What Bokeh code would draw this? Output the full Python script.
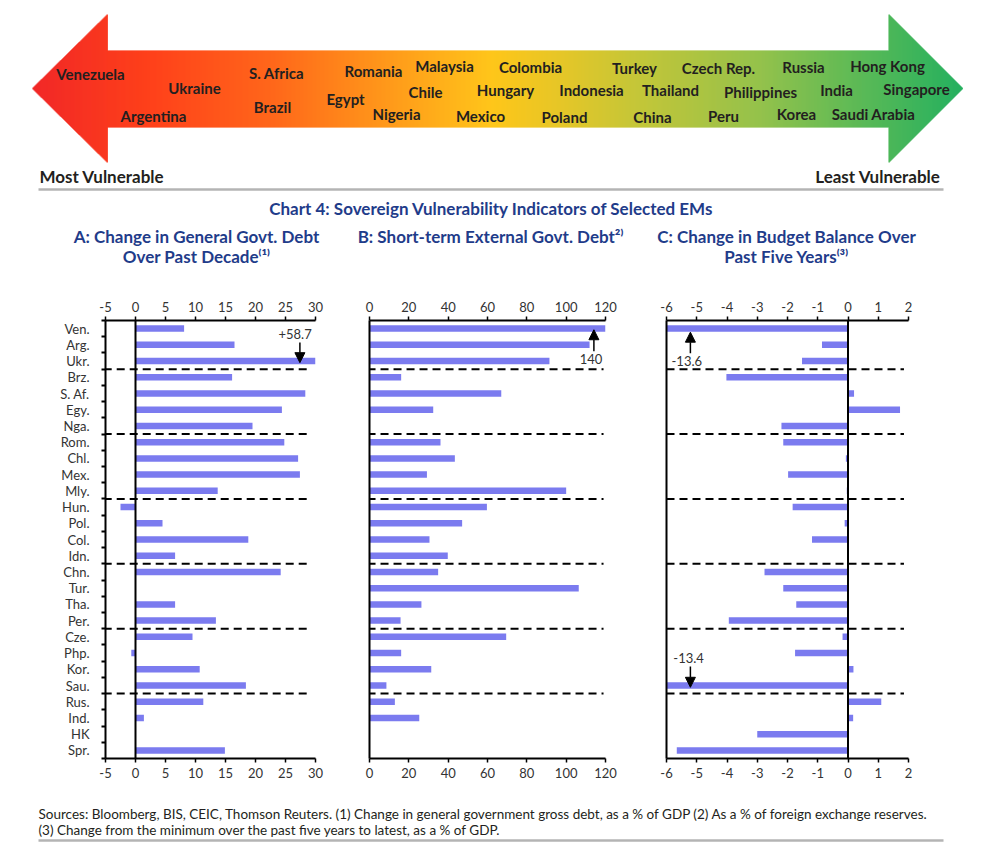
import numpy as np
from bokeh.plotting import figure
from bokeh.models import (Range1d, FixedTicker, LinearAxis, Arrow, NormalHead, Label,
                          ColumnDataSource, Span)
from bokeh.layouts import column, row
from bokeh.embed import file_html
from bokeh.resources import INLINE
from bokeh.core.properties import value

nan = float("nan")

# ---------------- data ----------------
codes = ["Ven.", "Arg.", "Ukr.", "Brz.", "S. Af.", "Egy.", "Nga.", "Rom.", "Chl.", "Mex.",
         "Mly.", "Hun.", "Pol.", "Col.", "Idn.", "Chn.", "Tur.", "Tha.", "Per.", "Cze.",
         "Php.", "Kor.", "Sau.", "Rus.", "Ind.", "HK", "Spr."]
group_sizes = [3, 4, 4, 4, 4, 4, 4]

# A: change in general govt. debt over past decade (% of GDP)
debt_change = [8.1, 16.5, 58.7, 16.1, 28.3, 24.4, 19.5, 24.8, 27.1, 27.4,
               13.7, -2.5, 4.5, 18.8, 6.6, 24.2, nan, 6.6, 13.4, 9.5,
               -0.7, 10.7, 18.4, 11.3, 1.4, nan, 14.9]
# B: short-term external govt. debt (% of FX reserves)
st_ext_debt = [140, 111.9, 91.5, 16.1, 67.0, 32.4, nan, 36.1, 43.4, 29.2,
               100.0, 59.7, 47.1, 30.5, 39.8, 34.9, 106.4, 26.4, 15.8, 69.5,
               16.1, 31.4, 8.6, 12.9, 25.3, nan, nan]
# C: change in budget balance over past five years (% of GDP)
budget_change = [-13.6, -0.86, -1.52, -4.02, 0.2, 1.72, -2.2, -2.14, -0.07, -1.98,
                 -0.04, -1.83, -0.11, -1.19, nan, -2.76, -2.14, -1.71, -3.94, -0.18,
                 -1.75, 0.18, -13.4, 1.1, 0.17, -3.0, -5.66]

ticks_a = [-5, 0, 5, 10, 15, 20, 25, 30]
ticks_b = [0, 20, 40, 60, 80, 100, 120]
ticks_c = [-6, -5, -4, -3, -2, -1, 0, 1, 2]

arrow_countries = ["Venezuela", "Ukraine", "Argentina", "S. Africa", "Brazil", "Romania",
                   "Egypt", "Malaysia", "Chile", "Nigeria", "Hungary", "Mexico", "Colombia",
                   "Indonesia", "Poland", "Turkey", "Thailand", "China", "Czech Rep.",
                   "Philippines", "Peru", "Russia", "India", "Korea", "Hong Kong",
                   "Singapore", "Saudi Arabia"]

# ---------------- layout / style ----------------
label_x = [90, 194, 153, 276, 272, 373, 345, 444, 425, 396, 505, 480, 530, 591, 564,
           634, 670, 652, 718, 760, 723, 803, 836, 796, 887, 916, 873]
label_y = [73, 87, 115, 72, 106, 70, 98, 65, 91, 113, 89, 115, 66, 89, 116,
           67, 89, 116, 67, 91, 115, 66, 89, 113, 65, 88, 113]

FONT = "Lato"
BAR = "#7b7bef"
TXT = "#231f20"
BLUE = "#1f3c8a"
GRAY = "#b4b4b4"
W = 986

# ---------------- top figure (arrow + titles) ----------------
top = figure(width=W, height=285, x_range=Range1d(0, W), y_range=Range1d(285, 0),
             output_backend="svg", toolbar_location=None, min_border=0,
             x_axis_location=None, y_axis_location=None)
top.grid.visible = False
top.outline_line_color = None

# gradient double-headed arrow built from thin slices
tipL, baseL, baseR, tipR = 31.0, 107.0, 887.0, 962.0
cy, head_half, sh_top, sh_bot = 88.0, 75.0, 50.0, 127.0
xs = np.arange(tipL, tipR, 1.0)
tops, bots = [], []
for x in xs:
    if x < baseL:
        h = (x - tipL) / (baseL - tipL) * head_half
        tops.append(cy - h); bots.append(cy + h)
    elif x > baseR:
        h = (tipR - x) / (tipR - baseR) * head_half
        tops.append(cy - h); bots.append(cy + h)
    else:
        tops.append(sh_top); bots.append(sh_bot)
stops_x = [31, 150, 270, 345, 425, 490, 560, 634, 760, 850, 962]
stops_c = ["#f01010", "#ff2c00", "#ff5600", "#ff7a00", "#ffa000", "#ffbf00",
           "#e3c010", "#bfc022", "#88bb38", "#4fb343", "#0ca84e"]
rgb = np.array([[int(c[i:i + 2], 16) for i in (1, 3, 5)] for c in stops_c], dtype=float)
cols = []
for x in xs:
    r = np.interp(x, stops_x, rgb[:, 0]); g = np.interp(x, stops_x, rgb[:, 1]); b = np.interp(x, stops_x, rgb[:, 2])
    cols.append("#%02x%02x%02x" % (int(r), int(g), int(b)))
top.quad(left=xs, right=xs + 1.3, top=tops, bottom=bots, fill_color=cols, line_color=None)

top.text(x=label_x, y=label_y, text=arrow_countries, text_font=value(FONT),
         text_font_style="bold", text_font_size="15px", text_align="center",
         text_baseline="middle", text_color=TXT)

top.add_layout(Label(x=39, y=176, text="Most Vulnerable", text_font=FONT, text_font_style="bold",
                     text_font_size="17px", text_align="left", text_baseline="middle", text_color=TXT))
top.add_layout(Label(x=940, y=176, text="Least Vulnerable", text_font=FONT, text_font_style="bold",
                     text_font_size="17px", text_align="right", text_baseline="middle", text_color=TXT))
top.line(x=[38, 943], y=[189, 189], line_color=GRAY, line_width=2.5)


def title_label(x, y, txt):
    top.add_layout(Label(x=x, y=y, text=txt, text_font=FONT, text_font_style="bold",
                         text_font_size="17px", text_align="center", text_baseline="middle",
                         text_color=BLUE))


title_label(491, 208, "Chart 4: Sovereign Vulnerability Indicators of Selected EMs")
title_label(196, 236, "A: Change in General Govt. Debt")
title_label(196, 256, "Over Past Decade\u207d\u00b9\u207e")
title_label(490, 236, "B: Short-term External Govt. Debt\u00b2\u207e")
title_label(786, 236, "C: Change in Budget Balance Over")
title_label(786, 256, "Past Five Years\u207d\u00b3\u207e")

# ---------------- panels ----------------
n = len(codes)
breaks = list(np.cumsum(group_sizes)[:-1] - 0.5)


def make_panel(vals, xr, ticks, width, bl, br, dash_x, zero_line, show_labels):
    p = figure(width=width, height=505, x_range=Range1d(*xr), y_range=Range1d(n - 0.5, -0.5),
               output_backend="svg", toolbar_location=None, x_axis_location="above",
               min_border_left=bl, min_border_right=br, min_border_top=35, min_border_bottom=32)
    p.grid.visible = False
    p.outline_line_color = None
    p.add_layout(LinearAxis(), "below")
    for ax in p.xaxis:
        ax.ticker = FixedTicker(ticks=ticks)
        ax.major_label_overrides = {t: str(t) for t in ticks}
        ax.axis_line_width = 2
        ax.axis_line_color = "black"
        ax.major_tick_in = 0
        ax.major_tick_out = 4
        ax.major_tick_line_width = 1.5
        ax.major_tick_line_color = "black"
        ax.minor_tick_line_color = None
        ax.major_label_text_font = FONT
        ax.major_label_text_font_size = "13px"
        ax.major_label_text_color = "#333333"
        ax.major_label_standoff = 5
    yax = p.yaxis[0]
    yax.axis_line_width = 2
    yax.axis_line_color = "black"
    if show_labels:
        yax.ticker = FixedTicker(ticks=list(range(n)), minor_ticks=[i - 0.5 for i in range(n + 1)])
        yax.major_label_overrides = {i: c for i, c in enumerate(codes)}
        yax.major_tick_in = 0
        yax.major_tick_out = 0
        yax.minor_tick_in = 0
        yax.minor_tick_out = 4
        yax.minor_tick_line_width = 2
        yax.minor_tick_line_color = "black"
        yax.major_label_text_font = FONT
        yax.major_label_text_font_size = "13px"
        yax.major_label_text_color = "#333333"
        yax.major_label_standoff = 12
    else:
        yax.ticker = FixedTicker(ticks=[])
        yax.major_tick_line_color = None
        yax.minor_tick_line_color = None

    idx = [i for i, v in enumerate(vals) if v == v]
    src = ColumnDataSource(dict(y=idx, right=[vals[i] for i in idx]))
    p.hbar(y="y", left=0, right="right", height=0.4, source=src,
           fill_color=BAR, line_color=None)
    p.segment(x0=dash_x[0], x1=dash_x[1], y0=breaks, y1=breaks, line_dash="8 5",
              line_width=2, line_color="black")
    if zero_line:
        p.add_layout(Span(location=0, dimension="height", line_color="black", line_width=2))
    return p


def add_arrow(p, x, y0, y1, txt, tx, ty):
    p.add_layout(Arrow(end=NormalHead(size=10, fill_color="black", line_color="black"),
                       x_start=x, y_start=y0, x_end=x, y_end=y1,
                       line_color="black", line_width=1.5))
    p.add_layout(Label(x=tx, y=ty, text=txt, text_font=FONT, text_font_size="13px",
                       text_align="center", text_baseline="middle", text_color="#333333"))


pA = make_panel(debt_change, (-5, 30), ticks_a, 340, 105, 25, (-5.3, 29.2), True, True)
pB = make_panel(st_ext_debt, (0, 120), ticks_b, 295, 29, 30, (-1, 119), False, False)
pC = make_panel(budget_change, (-6, 2), ticks_c, 351, 31, 78, (-6, 1.85), True, False)

add_arrow(pA, 27.4, 0.86, 2.1, "+%.1f" % debt_change[2], 26.6, 0.32)
add_arrow(pB, 114.1, 1.39, 0.07, "%d" % st_ext_debt[0], 112.6, 1.86)
add_arrow(pC, -5.21, 1.52, 0.22, "%.1f" % budget_change[0], -5.33, 1.97)
add_arrow(pC, -5.21, 20.83, 22.11, "%.1f" % budget_change[22], -5.27, 20.32)

# ---------------- footer ----------------
foot = figure(width=W, height=58, x_range=Range1d(0, W), y_range=Range1d(848, 790),
              output_backend="svg", toolbar_location=None, min_border=0,
              x_axis_location=None, y_axis_location=None)
foot.grid.visible = False
foot.outline_line_color = None
foot.add_layout(Label(x=38, y=813, text="Sources: Bloomberg, BIS, CEIC, Thomson Reuters. (1) Change in general government gross debt, as a % of GDP (2) As a % of foreign exchange reserves.",
                      text_font=FONT, text_font_size="13.5px", text_align="left",
                      text_baseline="middle", text_color=TXT))
foot.add_layout(Label(x=38, y=829, text="(3) Change from the minimum over the past five years to latest, as a % of GDP.",
                      text_font=FONT, text_font_size="13.5px", text_align="left",
                      text_baseline="middle", text_color=TXT))
foot.line(x=[38, 943], y=[840, 840], line_color=GRAY, line_width=2.5)

layout = column(top, row(pA, pB, pC), foot)
open("out.html", "w").write(file_html(layout, INLINE))
